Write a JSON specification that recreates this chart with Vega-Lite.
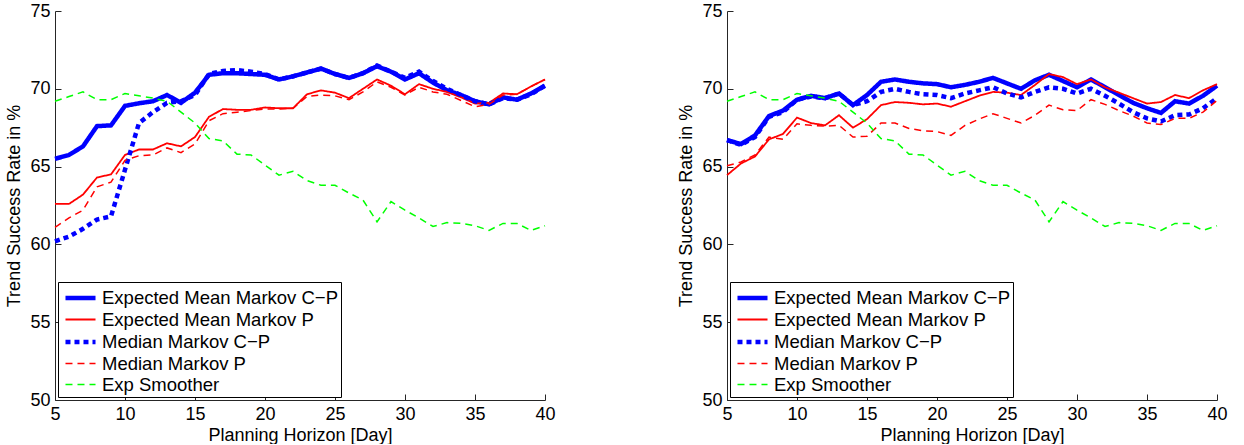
{
  "$schema": "https://vega.github.io/schema/vega-lite/v6.json",
  "padding": {"left": 5, "top": 2, "right": 5, "bottom": 0},
  "background": "white",
  "config": {
    "view": {"stroke": null},
    "font": "Liberation Sans",
    "concat": {"spacing": 121},
    "axis": {
      "grid": false,
      "domainColor": "#262626",
      "tickColor": "#262626",
      "labelColor": "black",
      "titleColor": "black",
      "labelFont": "Liberation Sans",
      "titleFont": "Liberation Sans",
      "labelFontSize": 18,
      "titleFontSize": 18,
      "titleFontWeight": "normal",
      "tickSize": -6,
      "labelPadding": 11
    },
    "axisX": {"titlePadding": 3, "labelFlush": false},
    "axisY": {"titlePadding": 6},
    "legend": {
      "orient": "bottom-left",
      "offset": 3,
      "fillColor": "white",
      "strokeColor": "black",
      "padding": 3,
      "labelFont": "Liberation Sans",
      "labelFontSize": 18.5,
      "labelColor": "black",
      "labelLimit": 400,
      "labelOffset": 8.5,
      "symbolType": "M-1.43,0H1.43",
      "symbolSize": 441,
      "symbolOffset": 6.5,
      "rowPadding": 0
    }
  },
  "datasets": {
    "d": [
      {"panel":"L","day":5,"Expected Mean Markov C−P":65.5,"Expected Mean Markov P":62.6,"Median Markov C−P":60.2,"Median Markov P":61.1,"Exp Smoother":69.2},
      {"panel":"L","day":6,"Expected Mean Markov C−P":65.75,"Expected Mean Markov P":62.6,"Median Markov C−P":60.5,"Median Markov P":61.7,"Exp Smoother":69.5},
      {"panel":"L","day":7,"Expected Mean Markov C−P":66.3,"Expected Mean Markov P":63.2,"Median Markov C−P":61.0,"Median Markov P":62.2,"Exp Smoother":69.8},
      {"panel":"L","day":8,"Expected Mean Markov C−P":67.6,"Expected Mean Markov P":64.3,"Median Markov C−P":61.6,"Median Markov P":63.7,"Exp Smoother":69.3},
      {"panel":"L","day":9,"Expected Mean Markov C−P":67.65,"Expected Mean Markov P":64.5,"Median Markov C−P":61.8,"Median Markov P":64.0,"Exp Smoother":69.3},
      {"panel":"L","day":10,"Expected Mean Markov C−P":68.9,"Expected Mean Markov P":65.75,"Median Markov C−P":64.8,"Median Markov P":65.4,"Exp Smoother":69.7},
      {"panel":"L","day":11,"Expected Mean Markov C−P":69.07,"Expected Mean Markov P":66.1,"Median Markov C−P":67.8,"Median Markov P":65.7,"Exp Smoother":69.55},
      {"panel":"L","day":12,"Expected Mean Markov C−P":69.2,"Expected Mean Markov P":66.1,"Median Markov C−P":68.5,"Median Markov P":65.75,"Exp Smoother":69.4},
      {"panel":"L","day":13,"Expected Mean Markov C−P":69.6,"Expected Mean Markov P":66.5,"Median Markov C−P":69.1,"Median Markov P":66.2,"Exp Smoother":69.2},
      {"panel":"L","day":14,"Expected Mean Markov C−P":69.1,"Expected Mean Markov P":66.3,"Median Markov C−P":69.2,"Median Markov P":65.9,"Exp Smoother":68.5},
      {"panel":"L","day":15,"Expected Mean Markov C−P":69.75,"Expected Mean Markov P":66.9,"Median Markov C−P":69.6,"Median Markov P":66.45,"Exp Smoother":67.8},
      {"panel":"L","day":16,"Expected Mean Markov C−P":70.9,"Expected Mean Markov P":68.2,"Median Markov C−P":70.95,"Median Markov P":67.95,"Exp Smoother":66.8},
      {"panel":"L","day":17,"Expected Mean Markov C−P":71.0,"Expected Mean Markov P":68.7,"Median Markov C−P":71.15,"Median Markov P":68.4,"Exp Smoother":66.65},
      {"panel":"L","day":18,"Expected Mean Markov C−P":71.0,"Expected Mean Markov P":68.65,"Median Markov C−P":71.2,"Median Markov P":68.5,"Exp Smoother":65.8},
      {"panel":"L","day":19,"Expected Mean Markov C−P":70.95,"Expected Mean Markov P":68.65,"Median Markov C−P":71.1,"Median Markov P":68.6,"Exp Smoother":65.75},
      {"panel":"L","day":20,"Expected Mean Markov C−P":70.9,"Expected Mean Markov P":68.8,"Median Markov C−P":70.95,"Median Markov P":68.7,"Exp Smoother":65.1},
      {"panel":"L","day":21,"Expected Mean Markov C−P":70.6,"Expected Mean Markov P":68.75,"Median Markov C−P":70.6,"Median Markov P":68.7,"Exp Smoother":64.45},
      {"panel":"L","day":22,"Expected Mean Markov C−P":70.8,"Expected Mean Markov P":68.75,"Median Markov C−P":70.8,"Median Markov P":68.75,"Exp Smoother":64.7},
      {"panel":"L","day":23,"Expected Mean Markov C−P":71.05,"Expected Mean Markov P":69.65,"Median Markov C−P":71.05,"Median Markov P":69.5,"Exp Smoother":64.1},
      {"panel":"L","day":24,"Expected Mean Markov C−P":71.3,"Expected Mean Markov P":69.9,"Median Markov C−P":71.3,"Median Markov P":69.6,"Exp Smoother":63.8},
      {"panel":"L","day":25,"Expected Mean Markov C−P":70.95,"Expected Mean Markov P":69.75,"Median Markov C−P":70.95,"Median Markov P":69.55,"Exp Smoother":63.8},
      {"panel":"L","day":26,"Expected Mean Markov C−P":70.7,"Expected Mean Markov P":69.4,"Median Markov C−P":70.7,"Median Markov P":69.3,"Exp Smoother":63.3},
      {"panel":"L","day":27,"Expected Mean Markov C−P":71.0,"Expected Mean Markov P":70.0,"Median Markov C−P":71.0,"Median Markov P":69.8,"Exp Smoother":62.85},
      {"panel":"L","day":28,"Expected Mean Markov C−P":71.45,"Expected Mean Markov P":70.6,"Median Markov C−P":71.5,"Median Markov P":70.45,"Exp Smoother":61.45},
      {"panel":"L","day":29,"Expected Mean Markov C−P":71.1,"Expected Mean Markov P":70.2,"Median Markov C−P":71.1,"Median Markov P":70.1,"Exp Smoother":62.75},
      {"panel":"L","day":30,"Expected Mean Markov C−P":70.6,"Expected Mean Markov P":69.65,"Median Markov C−P":70.7,"Median Markov P":69.6,"Exp Smoother":62.2},
      {"panel":"L","day":31,"Expected Mean Markov C−P":71.0,"Expected Mean Markov P":70.3,"Median Markov C−P":71.1,"Median Markov P":70.1,"Exp Smoother":61.7},
      {"panel":"L","day":32,"Expected Mean Markov C−P":70.4,"Expected Mean Markov P":70.0,"Median Markov C−P":70.5,"Median Markov P":69.8,"Exp Smoother":61.15},
      {"panel":"L","day":33,"Expected Mean Markov C−P":69.9,"Expected Mean Markov P":69.8,"Median Markov C−P":70.0,"Median Markov P":69.65,"Exp Smoother":61.4},
      {"panel":"L","day":34,"Expected Mean Markov C−P":69.6,"Expected Mean Markov P":69.45,"Median Markov C−P":69.6,"Median Markov P":69.25,"Exp Smoother":61.35},
      {"panel":"L","day":35,"Expected Mean Markov C−P":69.2,"Expected Mean Markov P":69.05,"Median Markov C−P":69.2,"Median Markov P":68.85,"Exp Smoother":61.2},
      {"panel":"L","day":36,"Expected Mean Markov C−P":69.0,"Expected Mean Markov P":69.1,"Median Markov C−P":69.0,"Median Markov P":69.0,"Exp Smoother":60.9},
      {"panel":"L","day":37,"Expected Mean Markov C−P":69.45,"Expected Mean Markov P":69.7,"Median Markov C−P":69.4,"Median Markov P":69.6,"Exp Smoother":61.35},
      {"panel":"L","day":38,"Expected Mean Markov C−P":69.3,"Expected Mean Markov P":69.65,"Median Markov C−P":69.3,"Median Markov P":69.65,"Exp Smoother":61.35},
      {"panel":"L","day":39,"Expected Mean Markov C−P":69.7,"Expected Mean Markov P":70.15,"Median Markov C−P":69.65,"Median Markov P":70.15,"Exp Smoother":60.9},
      {"panel":"L","day":40,"Expected Mean Markov C−P":70.2,"Expected Mean Markov P":70.6,"Median Markov C−P":70.2,"Median Markov P":70.6,"Exp Smoother":61.2},
      {"panel":"R","day":5,"Expected Mean Markov C−P":66.7,"Expected Mean Markov P":64.45,"Median Markov C−P":66.7,"Median Markov P":65.05,"Exp Smoother":69.2},
      {"panel":"R","day":6,"Expected Mean Markov C−P":66.45,"Expected Mean Markov P":65.2,"Median Markov C−P":66.4,"Median Markov P":65.3,"Exp Smoother":69.5},
      {"panel":"R","day":7,"Expected Mean Markov C−P":67.0,"Expected Mean Markov P":65.65,"Median Markov C−P":66.9,"Median Markov P":65.75,"Exp Smoother":69.8},
      {"panel":"R","day":8,"Expected Mean Markov C−P":68.25,"Expected Mean Markov P":66.75,"Median Markov C−P":68.2,"Median Markov P":66.9,"Exp Smoother":69.3},
      {"panel":"R","day":9,"Expected Mean Markov C−P":68.6,"Expected Mean Markov P":67.1,"Median Markov C−P":68.5,"Median Markov P":66.75,"Exp Smoother":69.3},
      {"panel":"R","day":10,"Expected Mean Markov C−P":69.3,"Expected Mean Markov P":68.15,"Median Markov C−P":69.3,"Median Markov P":67.75,"Exp Smoother":69.7},
      {"panel":"R","day":11,"Expected Mean Markov C−P":69.55,"Expected Mean Markov P":67.8,"Median Markov C−P":69.5,"Median Markov P":67.65,"Exp Smoother":69.55},
      {"panel":"R","day":12,"Expected Mean Markov C−P":69.4,"Expected Mean Markov P":67.65,"Median Markov C−P":69.4,"Median Markov P":67.6,"Exp Smoother":69.4},
      {"panel":"R","day":13,"Expected Mean Markov C−P":69.7,"Expected Mean Markov P":68.3,"Median Markov C−P":69.7,"Median Markov P":67.65,"Exp Smoother":69.2},
      {"panel":"R","day":14,"Expected Mean Markov C−P":68.95,"Expected Mean Markov P":67.5,"Median Markov C−P":68.95,"Median Markov P":66.9,"Exp Smoother":68.5},
      {"panel":"R","day":15,"Expected Mean Markov C−P":69.6,"Expected Mean Markov P":68.05,"Median Markov C−P":69.2,"Median Markov P":66.95,"Exp Smoother":67.8},
      {"panel":"R","day":16,"Expected Mean Markov C−P":70.45,"Expected Mean Markov P":68.95,"Median Markov C−P":69.8,"Median Markov P":67.8,"Exp Smoother":66.8},
      {"panel":"R","day":17,"Expected Mean Markov C−P":70.6,"Expected Mean Markov P":69.15,"Median Markov C−P":70.0,"Median Markov P":67.8,"Exp Smoother":66.65},
      {"panel":"R","day":18,"Expected Mean Markov C−P":70.45,"Expected Mean Markov P":69.1,"Median Markov C−P":69.8,"Median Markov P":67.45,"Exp Smoother":65.8},
      {"panel":"R","day":19,"Expected Mean Markov C−P":70.35,"Expected Mean Markov P":69.0,"Median Markov C−P":69.65,"Median Markov P":67.3,"Exp Smoother":65.75},
      {"panel":"R","day":20,"Expected Mean Markov C−P":70.3,"Expected Mean Markov P":69.05,"Median Markov C−P":69.6,"Median Markov P":67.25,"Exp Smoother":65.1},
      {"panel":"R","day":21,"Expected Mean Markov C−P":70.1,"Expected Mean Markov P":68.85,"Median Markov C−P":69.4,"Median Markov P":67.0,"Exp Smoother":64.45},
      {"panel":"R","day":22,"Expected Mean Markov C−P":70.25,"Expected Mean Markov P":69.2,"Median Markov C−P":69.7,"Median Markov P":67.65,"Exp Smoother":64.7},
      {"panel":"R","day":23,"Expected Mean Markov C−P":70.45,"Expected Mean Markov P":69.55,"Median Markov C−P":69.9,"Median Markov P":68.05,"Exp Smoother":64.1},
      {"panel":"R","day":24,"Expected Mean Markov C−P":70.7,"Expected Mean Markov P":69.8,"Median Markov C−P":70.1,"Median Markov P":68.4,"Exp Smoother":63.8},
      {"panel":"R","day":25,"Expected Mean Markov C−P":70.35,"Expected Mean Markov P":69.75,"Median Markov C−P":69.7,"Median Markov P":68.1,"Exp Smoother":63.8},
      {"panel":"R","day":26,"Expected Mean Markov C−P":70.0,"Expected Mean Markov P":69.6,"Median Markov C−P":69.45,"Median Markov P":67.8,"Exp Smoother":63.3},
      {"panel":"R","day":27,"Expected Mean Markov C−P":70.55,"Expected Mean Markov P":70.25,"Median Markov C−P":69.8,"Median Markov P":68.3,"Exp Smoother":62.85},
      {"panel":"R","day":28,"Expected Mean Markov C−P":70.9,"Expected Mean Markov P":70.95,"Median Markov C−P":70.1,"Median Markov P":68.95,"Exp Smoother":61.45},
      {"panel":"R","day":29,"Expected Mean Markov C−P":70.5,"Expected Mean Markov P":70.75,"Median Markov C−P":70.0,"Median Markov P":68.65,"Exp Smoother":62.75},
      {"panel":"R","day":30,"Expected Mean Markov C−P":70.1,"Expected Mean Markov P":70.3,"Median Markov C−P":69.7,"Median Markov P":68.6,"Exp Smoother":62.2},
      {"panel":"R","day":31,"Expected Mean Markov C−P":70.6,"Expected Mean Markov P":70.6,"Median Markov C−P":70.0,"Median Markov P":69.3,"Exp Smoother":61.7},
      {"panel":"R","day":32,"Expected Mean Markov C−P":70.1,"Expected Mean Markov P":70.1,"Median Markov C−P":69.55,"Median Markov P":69.0,"Exp Smoother":61.15},
      {"panel":"R","day":33,"Expected Mean Markov C−P":69.6,"Expected Mean Markov P":69.75,"Median Markov C−P":69.05,"Median Markov P":68.6,"Exp Smoother":61.4},
      {"panel":"R","day":34,"Expected Mean Markov C−P":69.1,"Expected Mean Markov P":69.4,"Median Markov C−P":68.5,"Median Markov P":68.25,"Exp Smoother":61.35},
      {"panel":"R","day":35,"Expected Mean Markov C−P":68.75,"Expected Mean Markov P":69.05,"Median Markov C−P":68.1,"Median Markov P":67.8,"Exp Smoother":61.2},
      {"panel":"R","day":36,"Expected Mean Markov C−P":68.45,"Expected Mean Markov P":69.15,"Median Markov C−P":67.9,"Median Markov P":67.7,"Exp Smoother":60.9},
      {"panel":"R","day":37,"Expected Mean Markov C−P":69.2,"Expected Mean Markov P":69.6,"Median Markov C−P":68.3,"Median Markov P":68.1,"Exp Smoother":61.35},
      {"panel":"R","day":38,"Expected Mean Markov C−P":69.05,"Expected Mean Markov P":69.4,"Median Markov C−P":68.35,"Median Markov P":68.1,"Exp Smoother":61.35},
      {"panel":"R","day":39,"Expected Mean Markov C−P":69.55,"Expected Mean Markov P":69.9,"Median Markov C−P":68.75,"Median Markov P":68.5,"Exp Smoother":60.9},
      {"panel":"R","day":40,"Expected Mean Markov C−P":70.2,"Expected Mean Markov P":70.3,"Median Markov C−P":69.4,"Median Markov P":69.25,"Exp Smoother":61.2}
    ]
  },
  "hconcat": [
    {
      "width": 490,
      "height": 389,
      "data": {"name": "d"},
      "transform": [
        {"filter": "datum.panel == 'L'"},
        {"fold": ["Expected Mean Markov C−P", "Expected Mean Markov P", "Median Markov C−P", "Median Markov P", "Exp Smoother"], "as": ["series", "value"]}
      ],
      "mark": {"type": "line", "clip": false, "strokeCap": "butt", "strokeJoin": "miter"},
      "encoding": {
        "x": {"field": "day", "type": "quantitative", "scale": {"domain": [5, 40], "nice": false, "zero": false}, "axis": {"title": "Planning Horizon [Day]", "values": [5, 10, 15, 20, 25, 30, 35, 40]}},
        "y": {"field": "value", "type": "quantitative", "scale": {"domain": [50, 75], "nice": false, "zero": false}, "axis": {"title": "Trend Success Rate in %", "values": [50, 55, 60, 65, 70, 75]}},
        "color": {"field": "series", "type": "nominal", "title": null, "scale": {"domain": ["Expected Mean Markov C−P", "Expected Mean Markov P", "Median Markov C−P", "Median Markov P", "Exp Smoother"], "range": ["#0000ff", "#ff0000", "#0000ff", "#ff0000", "#00ff00"]}},
        "strokeDash": {"field": "series", "type": "nominal", "title": null, "scale": {"domain": ["Expected Mean Markov C−P", "Expected Mean Markov P", "Median Markov C−P", "Median Markov P", "Exp Smoother"], "range": [[1, 0], [1, 0], [5, 4], [7, 5], [7, 5]]}},
        "strokeWidth": {"field": "series", "type": "nominal", "title": null, "scale": {"type": "ordinal", "domain": ["Expected Mean Markov C−P", "Expected Mean Markov P", "Median Markov C−P", "Median Markov P", "Exp Smoother"], "range": [4.5, 1.8, 4.5, 1.5, 1.5]}}
      }
    },
    {
      "width": 490,
      "height": 389,
      "data": {"name": "d"},
      "transform": [
        {"filter": "datum.panel == 'R'"},
        {"fold": ["Expected Mean Markov C−P", "Expected Mean Markov P", "Median Markov C−P", "Median Markov P", "Exp Smoother"], "as": ["series", "value"]}
      ],
      "mark": {"type": "line", "clip": false, "strokeCap": "butt", "strokeJoin": "miter"},
      "encoding": {
        "x": {"field": "day", "type": "quantitative", "scale": {"domain": [5, 40], "nice": false, "zero": false}, "axis": {"title": "Planning Horizon [Day]", "values": [5, 10, 15, 20, 25, 30, 35, 40]}},
        "y": {"field": "value", "type": "quantitative", "scale": {"domain": [50, 75], "nice": false, "zero": false}, "axis": {"title": "Trend Success Rate in %", "values": [50, 55, 60, 65, 70, 75]}},
        "color": {"field": "series", "type": "nominal", "title": null, "scale": {"domain": ["Expected Mean Markov C−P", "Expected Mean Markov P", "Median Markov C−P", "Median Markov P", "Exp Smoother"], "range": ["#0000ff", "#ff0000", "#0000ff", "#ff0000", "#00ff00"]}},
        "strokeDash": {"field": "series", "type": "nominal", "title": null, "scale": {"domain": ["Expected Mean Markov C−P", "Expected Mean Markov P", "Median Markov C−P", "Median Markov P", "Exp Smoother"], "range": [[1, 0], [1, 0], [5, 4], [7, 5], [7, 5]]}},
        "strokeWidth": {"field": "series", "type": "nominal", "title": null, "scale": {"type": "ordinal", "domain": ["Expected Mean Markov C−P", "Expected Mean Markov P", "Median Markov C−P", "Median Markov P", "Exp Smoother"], "range": [4.5, 1.8, 4.5, 1.5, 1.5]}}
      }
    }
  ],
  "resolve": {"scale": {"color": "independent", "strokeDash": "independent", "strokeWidth": "independent"}, "legend": {"color": "independent", "strokeDash": "independent", "strokeWidth": "independent"}}
}
